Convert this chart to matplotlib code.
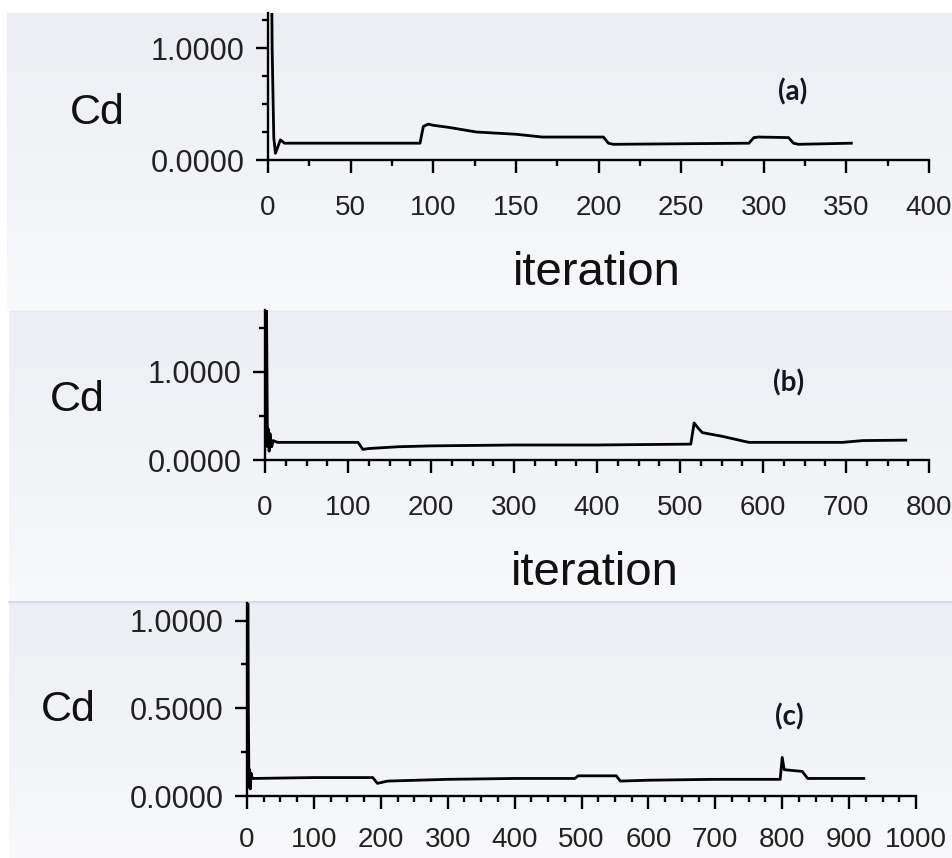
import numpy as np
import matplotlib.pyplot as plt
from matplotlib.ticker import MultipleLocator, FixedLocator

plt.rcParams['font.family'] = ['Liberation Sans', 'DejaVu Sans']

# panel (a) - convergence of Cd
iter_a = [0, 1.5, 2.5, 3.5, 4.5, 6, 7.5, 10, 92, 94, 97, 100, 110, 126, 150, 166,
          203, 206, 209, 291, 294, 297, 315, 318, 321, 353]
cd_a = [5.0, 3.0, 1.0, 0.2, 0.06, 0.12, 0.18, 0.15, 0.15, 0.30, 0.32, 0.31, 0.29,
        0.25, 0.23, 0.205, 0.205, 0.15, 0.14, 0.15, 0.20, 0.205, 0.20, 0.15, 0.14, 0.15]

# panel (b)
iter_b = [0, 2, 3, 4, 5, 6, 8, 10, 15, 112, 118, 125, 160, 200, 300, 400, 513,
          517, 522, 527, 550, 583, 696, 720, 772]
cd_b = [5.0, 1.5, 0.15, 0.35, 0.1, 0.3, 0.15, 0.22, 0.2, 0.2, 0.12, 0.13, 0.15,
        0.16, 0.17, 0.17, 0.18, 0.42, 0.36, 0.31, 0.27, 0.2, 0.2, 0.22, 0.225]

# panel (c)
iter_c = [0, 2, 3, 4, 5, 6, 8, 100, 188, 195, 210, 300, 400, 490, 495, 552, 558,
          600, 700, 797, 800, 803, 830, 838, 922]
cd_c = [3.0, 0.5, 0.05, 0.15, 0.04, 0.13, 0.1, 0.105, 0.105, 0.072, 0.085, 0.095,
        0.1, 0.1, 0.115, 0.115, 0.085, 0.09, 0.095, 0.095, 0.22, 0.15, 0.14, 0.1, 0.1]

W, H = 952, 858


def fx(px):
    return px / W


def fy(py):
    return 1 - py / H


fig = plt.figure(figsize=(W / 100, H / 100), dpi=100)
fig.patch.set_facecolor('white')

# screenshot-like panel backgrounds (light gradient)
bg = fig.add_axes([0, 0, 1, 1], zorder=-10)
bg.set_xlim(0, W)
bg.set_ylim(H, 0)
bg.axis('off')
grad = np.linspace(0, 1, 100).reshape(-1, 1)
top_col = np.array([0.925, 0.933, 0.953])
bot_col = np.array([0.973, 0.976, 0.984])
img = top_col + grad[..., None] * (bot_col - top_col)
for x0, y0, y1 in [(7, 13, 309), (9, 310, 601), (9, 602, 858)]:
    bg.imshow(img, extent=[x0, W, y1, y0], aspect='auto', zorder=0)
bg.plot([9, W], [601.5, 601.5], color='#c9d5e7', lw=1.2, zorder=1)


def make_panel(rect, x, y, xmax, ymax, xmajor, ymajor, yminor, xpad):
    left, right, bottom, top = rect
    ax = fig.add_axes([fx(left), fy(bottom), fx(right) - fx(left), fy(top) - fy(bottom)])
    ax.patch.set_alpha(0)
    ax.plot(x, y, color='black', lw=2.0, solid_joinstyle='round')
    ax.set_xlim(0, xmax)
    ax.set_ylim(0, ymax)
    for s in ['top', 'right']:
        ax.spines[s].set_visible(False)
    for s in ['left', 'bottom']:
        ax.spines[s].set_linewidth(1.7)
    ax.xaxis.set_major_locator(MultipleLocator(xmajor))
    ax.xaxis.set_minor_locator(MultipleLocator(25))
    ax.yaxis.set_major_locator(FixedLocator(ymajor))
    ax.yaxis.set_minor_locator(MultipleLocator(yminor))
    ax.yaxis.set_major_formatter(plt.FuncFormatter(lambda v, p: '%.4f' % v))
    ax.tick_params(which='major', length=9, width=1.7, labelcolor='#222222')
    ax.tick_params(which='minor', length=4.5, width=1.7)
    ax.tick_params(axis='x', which='major', pad=xpad, labelsize=20)
    ax.tick_params(axis='y', which='major', pad=8, labelsize=22)
    return ax


ax_a = make_panel((268, 929, 160, 13), iter_a, cd_a, 400, 1.3125, 50, [0, 1], 0.25, 16)
ax_b = make_panel((265, 929, 460, 310), iter_b, cd_b, 800, 1.70, 100, [0, 1], 0.5, 16)
ax_c = make_panel((247, 916, 796, 603), iter_c, cd_c, 1000, 1.10, 100, [0, 0.5, 1], 0.25, 13)

# axis titles and panel tags
for cx, cy in [(97, 113), (77, 400), (68, 710)]:
    fig.text(fx(cx), fy(cy), 'Cd', fontsize=31, ha='center', va='center', color='#111111')
for cx, cy in [(597, 285), (595, 585)]:
    fig.text(fx(cx), fy(cy), 'iteration', fontsize=34, ha='center', va='baseline',
             color='#111111')
for tag, cx, cy in [('(a)', 793, 92), ('(b)', 789, 383), ('(c)', 789, 717)]:
    fig.text(fx(cx), fy(cy), tag, fontsize=20, fontweight='bold', ha='center',
             va='center', color='#151525', family=['Lato', 'DejaVu Sans'])

plt.savefig('out.png', dpi=100)
